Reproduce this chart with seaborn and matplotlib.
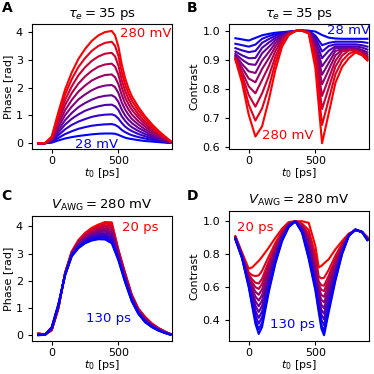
import pandas as pd
import seaborn as sns
import matplotlib.pyplot as plt
from matplotlib.colors import LinearSegmentedColormap

# time axes [ps]
t_a = [-100, -50, 0, 50, 100, 150, 200, 250, 300, 350, 400, 450, 475, 500, 525, 550, 575, 600, 650, 700, 750, 800, 850, 890]
t_b = [-100, -50, 0, 50, 100, 150, 200, 250, 300, 350, 400, 450, 500, 550, 600, 650, 700, 750, 800, 850, 890]
t_c = t_b
t_d = [-100, -50, 0, 25, 50, 75, 100, 150, 200, 250, 300, 350, 400, 450, 500, 525, 545, 565, 600, 650, 700, 750, 800, 850, 890]

# panel A/B: amplitude sweep (tau_e = 35 ps)
v_awg = [28, 53, 78, 104, 129, 154, 179, 204, 230, 255, 280]

phase_a = [
    [0, 0, 0.02, 0.10, 0.17, 0.22, 0.26, 0.29, 0.32, 0.34, 0.35, 0.35, 0.34, 0.30, 0.25, 0.20, 0.17, 0.15, 0.11, 0.08, 0.06, 0.04, 0.02, 0.01],
    [0, 0, 0.04, 0.19, 0.33, 0.43, 0.52, 0.58, 0.63, 0.66, 0.68, 0.69, 0.66, 0.59, 0.48, 0.40, 0.34, 0.29, 0.22, 0.17, 0.12, 0.08, 0.04, 0.01],
    [0, 0, 0.06, 0.29, 0.50, 0.66, 0.78, 0.87, 0.95, 1.00, 1.03, 1.04, 1.00, 0.89, 0.73, 0.60, 0.51, 0.44, 0.33, 0.25, 0.18, 0.11, 0.06, 0.02],
    [0, 0, 0.08, 0.39, 0.67, 0.88, 1.04, 1.17, 1.26, 1.33, 1.38, 1.39, 1.33, 1.20, 0.97, 0.81, 0.68, 0.58, 0.44, 0.33, 0.24, 0.15, 0.08, 0.03],
    [0, 0, 0.10, 0.48, 0.83, 1.09, 1.30, 1.45, 1.57, 1.66, 1.71, 1.73, 1.66, 1.49, 1.21, 1.00, 0.85, 0.73, 0.55, 0.42, 0.29, 0.19, 0.10, 0.03],
    [0, 0, 0.13, 0.59, 1.01, 1.32, 1.58, 1.76, 1.91, 2.02, 2.08, 2.10, 2.02, 1.81, 1.47, 1.22, 1.03, 0.88, 0.67, 0.50, 0.36, 0.23, 0.13, 0.04],
    [0, 0, 0.15, 0.69, 1.19, 1.56, 1.86, 2.08, 2.26, 2.38, 2.46, 2.48, 2.38, 2.13, 1.74, 1.44, 1.22, 1.04, 0.79, 0.60, 0.42, 0.27, 0.15, 0.05],
    [0, 0, 0.17, 0.80, 1.38, 1.81, 2.15, 2.41, 2.61, 2.76, 2.84, 2.87, 2.76, 2.47, 2.01, 1.66, 1.41, 1.21, 0.92, 0.69, 0.49, 0.32, 0.17, 0.06],
    [0, 0, 0.20, 0.91, 1.56, 2.05, 2.45, 2.74, 2.97, 3.13, 3.23, 3.26, 3.13, 2.80, 2.28, 1.89, 1.60, 1.37, 1.04, 0.78, 0.55, 0.36, 0.20, 0.07],
    [0, 0, 0.22, 1.02, 1.76, 2.31, 2.75, 3.07, 3.33, 3.51, 3.62, 3.66, 3.51, 3.15, 2.56, 2.12, 1.79, 1.54, 1.17, 0.88, 0.62, 0.40, 0.22, 0.07],
    [0, 0, 0.24, 1.13, 1.94, 2.55, 3.04, 3.40, 3.69, 3.89, 4.01, 4.05, 3.89, 3.48, 2.84, 2.35, 1.98, 1.70, 1.30, 0.97, 0.69, 0.45, 0.24, 0.08],
]

contrast_b = [
    [0.974, 0.970, 0.966, 0.975, 0.984, 0.989, 0.993, 0.995, 0.997, 0.999, 1.0, 1.0, 0.997, 0.985, 0.976, 0.973, 0.972, 0.972, 0.972, 0.972, 0.972],
    [0.955, 0.950, 0.945, 0.952, 0.972, 0.981, 0.988, 0.992, 0.996, 0.999, 1.0, 0.999, 0.983, 0.950, 0.958, 0.962, 0.962, 0.962, 0.962, 0.961, 0.958],
    [0.940, 0.932, 0.926, 0.930, 0.958, 0.971, 0.982, 0.989, 0.995, 0.999, 1.0, 0.999, 0.976, 0.928, 0.947, 0.953, 0.953, 0.953, 0.953, 0.950, 0.945],
    [0.928, 0.915, 0.905, 0.906, 0.941, 0.959, 0.975, 0.985, 0.994, 0.999, 1.0, 0.998, 0.968, 0.905, 0.931, 0.946, 0.946, 0.946, 0.946, 0.942, 0.935],
    [0.920, 0.900, 0.885, 0.882, 0.922, 0.944, 0.967, 0.982, 0.993, 0.999, 1.0, 0.997, 0.959, 0.877, 0.910, 0.940, 0.940, 0.940, 0.940, 0.934, 0.925],
    [0.914, 0.885, 0.860, 0.854, 0.897, 0.926, 0.957, 0.977, 0.992, 0.999, 1.0, 0.996, 0.949, 0.848, 0.889, 0.930, 0.936, 0.936, 0.936, 0.928, 0.918],
    [0.910, 0.872, 0.835, 0.822, 0.868, 0.905, 0.945, 0.973, 0.991, 0.999, 1.0, 0.995, 0.938, 0.815, 0.865, 0.915, 0.934, 0.934, 0.934, 0.925, 0.912],
    [0.906, 0.858, 0.808, 0.784, 0.830, 0.877, 0.930, 0.967, 0.989, 0.999, 1.0, 0.994, 0.925, 0.775, 0.836, 0.896, 0.928, 0.933, 0.933, 0.922, 0.907],
    [0.903, 0.845, 0.778, 0.738, 0.784, 0.843, 0.911, 0.960, 0.988, 0.999, 1.0, 0.993, 0.910, 0.730, 0.803, 0.876, 0.914, 0.932, 0.932, 0.920, 0.903],
    [0.901, 0.832, 0.745, 0.690, 0.732, 0.804, 0.890, 0.953, 0.986, 0.999, 1.0, 0.992, 0.891, 0.675, 0.763, 0.850, 0.896, 0.920, 0.930, 0.918, 0.900],
    [0.900, 0.820, 0.710, 0.635, 0.670, 0.760, 0.865, 0.945, 0.985, 0.999, 1.0, 0.990, 0.870, 0.612, 0.715, 0.820, 0.875, 0.905, 0.925, 0.915, 0.897],
]

# panel C/D: jitter sweep (V_AWG = 280 mV)
tau_e = [20, 30, 40, 50, 60, 70, 80, 90, 100, 110, 120, 130]

phase_c = [
    [0.07, 0.03, 0.18, 0.98, 2.30, 3.08, 3.50, 3.76, 3.95, 4.07, 4.16, 4.15, 3.15, 2.30, 1.50, 0.98, 0.68, 0.44, 0.27, 0.14, 0.05],
    [0.06, 0.03, 0.19, 1.00, 2.29, 3.06, 3.47, 3.73, 3.91, 4.02, 4.10, 4.08, 3.11, 2.27, 1.48, 0.96, 0.66, 0.43, 0.26, 0.13, 0.05],
    [0.06, 0.03, 0.20, 1.01, 2.28, 3.05, 3.45, 3.69, 3.86, 3.97, 4.04, 4.01, 3.08, 2.24, 1.45, 0.94, 0.64, 0.41, 0.25, 0.13, 0.04],
    [0.05, 0.03, 0.21, 1.03, 2.27, 3.03, 3.42, 3.66, 3.82, 3.92, 3.99, 3.94, 3.04, 2.20, 1.43, 0.93, 0.63, 0.40, 0.24, 0.12, 0.04],
    [0.04, 0.03, 0.22, 1.04, 2.26, 3.01, 3.39, 3.62, 3.78, 3.87, 3.93, 3.87, 3.00, 2.17, 1.41, 0.91, 0.61, 0.39, 0.23, 0.12, 0.04],
    [0.04, 0.03, 0.23, 1.06, 2.25, 3.00, 3.36, 3.59, 3.74, 3.82, 3.87, 3.80, 2.97, 2.14, 1.39, 0.89, 0.59, 0.38, 0.22, 0.11, 0.04],
    [0.03, 0.02, 0.25, 1.07, 2.25, 2.98, 3.34, 3.55, 3.69, 3.78, 3.81, 3.73, 2.93, 2.11, 1.36, 0.87, 0.57, 0.36, 0.22, 0.11, 0.03],
    [0.03, 0.02, 0.26, 1.09, 2.24, 2.97, 3.31, 3.52, 3.65, 3.73, 3.75, 3.66, 2.90, 2.08, 1.34, 0.85, 0.55, 0.35, 0.21, 0.10, 0.03],
    [0.02, 0.02, 0.27, 1.10, 2.23, 2.95, 3.28, 3.48, 3.61, 3.68, 3.69, 3.59, 2.86, 2.05, 1.32, 0.83, 0.53, 0.34, 0.20, 0.10, 0.03],
    [0.01, 0.02, 0.28, 1.12, 2.22, 2.93, 3.25, 3.45, 3.57, 3.63, 3.64, 3.52, 2.82, 2.01, 1.30, 0.82, 0.52, 0.33, 0.19, 0.09, 0.03],
    [0.01, 0.02, 0.29, 1.13, 2.21, 2.92, 3.23, 3.41, 3.52, 3.58, 3.58, 3.45, 2.79, 1.98, 1.27, 0.80, 0.50, 0.31, 0.18, 0.09, 0.02],
    [0.00, 0.02, 0.30, 1.15, 2.20, 2.90, 3.20, 3.38, 3.48, 3.53, 3.52, 3.38, 2.75, 1.95, 1.25, 0.78, 0.48, 0.30, 0.17, 0.08, 0.02],
]

contrast_d = [
    [0.910, 0.810, 0.713, 0.720, 0.740, 0.760, 0.785, 0.840, 0.900, 0.955, 0.995, 1.0, 1.000, 0.990, 0.850, 0.720, 0.730, 0.745, 0.770, 0.830, 0.880, 0.925, 0.945, 0.935, 0.905],
    [0.906, 0.803, 0.690, 0.674, 0.668, 0.672, 0.700, 0.786, 0.869, 0.940, 0.989, 1.0, 0.986, 0.946, 0.796, 0.666, 0.654, 0.658, 0.706, 0.792, 0.864, 0.922, 0.946, 0.935, 0.901],
    [0.904, 0.799, 0.678, 0.649, 0.628, 0.623, 0.653, 0.756, 0.852, 0.932, 0.986, 1.0, 0.978, 0.922, 0.766, 0.636, 0.612, 0.610, 0.671, 0.771, 0.855, 0.920, 0.947, 0.935, 0.899],
    [0.902, 0.797, 0.669, 0.631, 0.601, 0.590, 0.621, 0.736, 0.840, 0.926, 0.983, 1.0, 0.973, 0.905, 0.746, 0.616, 0.584, 0.578, 0.647, 0.757, 0.849, 0.919, 0.947, 0.935, 0.897],
    [0.901, 0.794, 0.661, 0.613, 0.573, 0.555, 0.588, 0.715, 0.828, 0.920, 0.981, 1.0, 0.968, 0.888, 0.725, 0.595, 0.554, 0.543, 0.622, 0.742, 0.843, 0.918, 0.947, 0.935, 0.896],
    [0.899, 0.791, 0.652, 0.595, 0.545, 0.520, 0.554, 0.693, 0.816, 0.914, 0.979, 1.0, 0.962, 0.871, 0.703, 0.573, 0.524, 0.509, 0.596, 0.727, 0.837, 0.917, 0.948, 0.935, 0.894],
    [0.898, 0.788, 0.643, 0.577, 0.516, 0.485, 0.521, 0.672, 0.804, 0.908, 0.976, 1.0, 0.956, 0.853, 0.682, 0.552, 0.494, 0.474, 0.571, 0.712, 0.830, 0.916, 0.948, 0.935, 0.893],
    [0.896, 0.786, 0.634, 0.559, 0.488, 0.451, 0.488, 0.651, 0.792, 0.903, 0.974, 1.0, 0.951, 0.836, 0.661, 0.531, 0.464, 0.440, 0.546, 0.697, 0.824, 0.915, 0.949, 0.935, 0.891],
    [0.894, 0.783, 0.625, 0.541, 0.459, 0.415, 0.454, 0.629, 0.779, 0.897, 0.972, 1.0, 0.945, 0.818, 0.639, 0.509, 0.434, 0.406, 0.520, 0.682, 0.818, 0.913, 0.949, 0.935, 0.889],
    [0.893, 0.780, 0.616, 0.522, 0.430, 0.380, 0.420, 0.608, 0.767, 0.891, 0.969, 1.0, 0.940, 0.801, 0.618, 0.488, 0.403, 0.371, 0.495, 0.667, 0.811, 0.912, 0.949, 0.935, 0.888],
    [0.891, 0.777, 0.607, 0.504, 0.402, 0.345, 0.386, 0.586, 0.754, 0.885, 0.967, 1.0, 0.934, 0.783, 0.596, 0.466, 0.373, 0.336, 0.469, 0.651, 0.805, 0.911, 0.950, 0.935, 0.886],
    [0.890, 0.775, 0.600, 0.490, 0.380, 0.318, 0.360, 0.570, 0.745, 0.880, 0.965, 1.0, 0.930, 0.770, 0.580, 0.450, 0.350, 0.310, 0.450, 0.640, 0.800, 0.910, 0.950, 0.935, 0.885],
]


def long_frame(t, curves, labels, name):
    rows = []
    for lab, ys in zip(labels, curves):
        for x, y in zip(t, ys):
            rows.append((x, y, lab))
    return pd.DataFrame(rows, columns=["t0", name, "label"])


blue_red = LinearSegmentedColormap.from_list("br", ["blue", "red"])
pal_v = [blue_red(i / (len(v_awg) - 1)) for i in range(len(v_awg))]
pal_tau = [blue_red(1 - i / (len(tau_e) - 1)) for i in range(len(tau_e))]

fig = plt.figure(figsize=(3.74, 3.74), dpi=100)
ax_a = fig.add_axes([0.0856, 0.6008, 0.3754, 0.3350])
ax_b = fig.add_axes([0.6123, 0.6008, 0.3754, 0.3350])
ax_c = fig.add_axes([0.0856, 0.0882, 0.3754, 0.3334])
ax_d = fig.add_axes([0.6123, 0.0882, 0.3754, 0.3468])

panels = [
    (ax_a, long_frame(t_a, phase_a, v_awg, "y"), v_awg, pal_v, "Phase [rad]", r"$\tau_e = 35$ ps"),
    (ax_b, long_frame(t_b, contrast_b, v_awg, "y"), v_awg, pal_v, "Contrast", r"$\tau_e = 35$ ps"),
    (ax_c, long_frame(t_c, phase_c, tau_e, "y"), tau_e, pal_tau, "Phase [rad]", r"$V_\mathrm{AWG} = 280$ mV"),
    (ax_d, long_frame(t_d, contrast_d, tau_e, "y"), tau_e, pal_tau, "Contrast", r"$V_\mathrm{AWG} = 280$ mV"),
]

for ax, df, labels, pal, ylab, title in panels:
    sns.lineplot(data=df, x="t0", y="y", hue="label", hue_order=labels,
                 palette=pal, legend=False, linewidth=1.5, ax=ax)
    ax.set_xlim(-148, 905)
    ax.set_xticks([0, 500])
    ax.set_xlabel(r"$t_0$ [ps]", fontsize=8, labelpad=0)
    ax.set_ylabel(ylab, fontsize=8, labelpad=2)
    ax.set_title(title, fontsize=9.5, pad=5)
    ax.tick_params(labelsize=8, length=3)
    ax.tick_params(axis="x", pad=2)

ax_a.set_ylim(-0.22, 4.3)
ax_a.set_yticks([0, 1, 2, 3, 4])
ax_b.set_ylim(0.591, 1.023)
ax_b.set_yticks([0.6, 0.7, 0.8, 0.9, 1.0])
ax_c.set_ylim(-0.21, 4.37)
ax_c.set_yticks([0, 1, 2, 3, 4])
ax_d.set_ylim(0.275, 1.06)
ax_d.set_yticks([0.4, 0.6, 0.8, 1.0])

fs = 9.5
ax_a.text(510, 3.95, "280 mV", color="red", fontsize=fs, va="center")
ax_a.text(175, -0.03, "28 mV", color="blue", fontsize=fs, va="center")
ax_b.text(585, 0.999, "28 mV", color="blue", fontsize=fs, va="center")
ax_b.text(100, 0.637, "280 mV", color="red", fontsize=fs, va="center")
ax_c.text(525, 3.97, "20 ps", color="red", fontsize=fs, va="center")
ax_c.text(257, 0.63, "130 ps", color="blue", fontsize=fs, va="center")
ax_d.text(-88, 0.96, "20 ps", color="red", fontsize=fs, va="center")
ax_d.text(157, 0.372, "130 ps", color="blue", fontsize=fs, va="center")

for x, y, s in [(0.004, 0.996, "A"), (0.5, 0.996, "B"), (0.004, 0.494, "C"), (0.5, 0.494, "D")]:
    fig.text(x, y, s, fontsize=10, fontweight="bold", ha="left", va="top")

fig.savefig("out.png", dpi=100)
